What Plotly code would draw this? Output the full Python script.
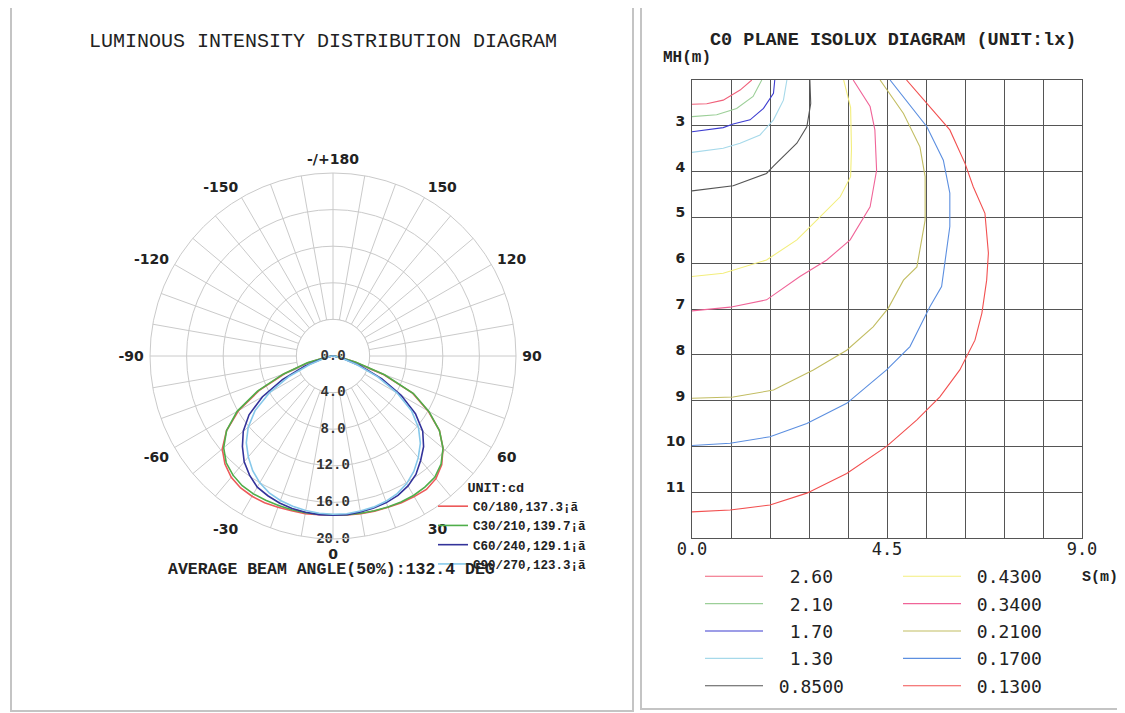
import plotly.graph_objects as go

# ---------------- Polar (luminous intensity) data ----------------
GAMMA = [0, 5, 10, 15, 20, 25, 30, 35, 40, 45, 50, 55, 60, 65, 70, 75, 80, 85, 90]

C0   = [17.4, 17.45, 17.5, 17.55, 17.6, 17.7, 17.75, 17.8, 17.5, 16.8, 15.7, 14.2, 12.0, 9.6, 5.8, 2.4, 0.7, 0.15, 0.0]
C180 = [17.4, 17.4, 17.5, 17.5, 17.6, 17.7, 17.7, 17.6, 17.3, 16.7, 15.8, 14.2, 11.9, 8.9, 5.6, 2.8, 0.8, 0.15, 0.0]
C30  = [17.35, 17.4, 17.45, 17.5, 17.55, 17.6, 17.6, 17.5, 17.3, 16.7, 15.7, 14.2, 12.1, 9.7, 6.0, 2.6, 0.8, 0.2, 0.0]
C210 = [17.35, 17.35, 17.4, 17.4, 17.4, 17.4, 17.4, 17.3, 17.0, 16.5, 15.6, 14.2, 12.1, 9.1, 5.8, 2.9, 0.9, 0.2, 0.0]
C60  = [17.4, 17.4, 17.3, 17.2, 17.05, 16.8, 16.4, 15.8, 14.9, 14.0, 12.8, 11.0, 8.6, 5.9, 3.2, 1.2, 0.3, 0.05, 0.0]
C240 = [17.4, 17.4, 17.35, 17.25, 17.1, 16.85, 16.55, 15.9, 15.1, 14.0, 12.8, 11.2, 8.9, 6.1, 3.3, 1.2, 0.3, 0.05, 0.0]
C90  = [17.3, 17.3, 17.2, 17.1, 16.9, 16.6, 16.1, 15.4, 14.5, 13.5, 12.2, 10.5, 8.1, 5.4, 2.8, 1.0, 0.25, 0.05, 0.0]
C270 = [17.3, 17.25, 17.15, 17.0, 16.8, 16.5, 16.0, 15.3, 14.4, 13.4, 12.1, 10.4, 8.0, 5.3, 2.7, 0.9, 0.2, 0.05, 0.0]

POLAR_NAMES = ["C0/180,137.3¡ã", "C30/210,139.7¡ã", "C60/240,129.1¡ã", "C90/270,123.3¡ã"]
POLAR_RIGHT = [C0, C30, C60, C90]
POLAR_LEFT = [C180, C210, C240, C270]
POLAR_COLORS = ["#ec5a5a", "#4fae4a", "#33339a", "#86c8ea"]

RADIAL_TICKS = [0, 4, 8, 12, 16, 20]
ANGLE_TICKS = list(range(0, 360, 10))
ANGLE_LABELS = {0: "0", 30: "30", 60: "60", 90: "90", 120: "120", 150: "150", 180: "-/+180",
                210: "-150", 240: "-120", 270: "-90", 300: "-60", 330: "-30"}

# ---------------- Isolux data ----------------
ISO_LEVELS = ["2.60", "2.10", "1.70", "1.30", "0.8500", "0.4300", "0.3400", "0.2100", "0.1700", "0.1300"]
ISO_COLORS = ["#f0607a", "#9ccf98", "#3d3dd0", "#a6d9ea", "#555555",
              "#f3ee7c", "#f06498", "#c2bd62", "#5c8fe0", "#f25050"]

S_260 = [0.00, 0.34, 0.72, 1.11, 1.38]
MH_260 = [2.53, 2.52, 2.44, 2.22, 2.00]
S_210 = [0.00, 0.57, 1.03, 1.41, 1.61]
MH_210 = [2.80, 2.76, 2.62, 2.36, 2.00]
S_170 = [0.00, 0.72, 0.95, 1.34, 1.65, 1.88, 1.91]
MH_170 = [3.13, 3.04, 2.96, 2.87, 2.62, 2.29, 2.00]
S_130 = [0.00, 0.72, 1.11, 1.57, 1.88, 2.11, 2.19]
MH_130 = [3.58, 3.49, 3.38, 3.20, 2.87, 2.44, 2.00]
S_085 = [0.00, 0.95, 1.72, 1.88, 2.42, 2.65, 2.74, 2.72]
MH_085 = [4.42, 4.31, 4.04, 3.88, 3.38, 3.02, 2.51, 2.00]
S_043 = [0.00, 0.72, 1.72, 2.42, 2.88, 3.42, 3.66, 3.68, 3.66, 3.50]
MH_043 = [6.29, 6.22, 5.93, 5.49, 5.06, 4.55, 4.11, 3.50, 2.60, 2.00]
S_034 = [0.00, 0.88, 1.72, 2.49, 3.11, 3.65, 4.11, 4.26, 4.22, 4.11, 3.72]
MH_034 = [7.04, 6.96, 6.80, 6.29, 5.93, 5.49, 4.77, 3.97, 3.09, 2.58, 2.00]
S_021 = [0.00, 0.95, 1.88, 2.80, 3.57, 4.18, 4.53, 4.88, 5.19, 5.38, 5.38, 5.26, 4.88, 4.34]
MH_021 = [8.95, 8.92, 8.77, 8.33, 7.90, 7.39, 6.98, 6.37, 6.08, 5.06, 4.11, 3.46, 2.73, 2.00]
S_017 = [0.00, 0.88, 1.80, 2.65, 3.57, 4.49, 5.03, 5.49, 5.76, 5.80, 5.95, 5.95, 5.80, 5.42, 4.57]
MH_017 = [9.98, 9.93, 9.79, 9.50, 9.06, 8.33, 7.82, 6.95, 6.51, 6.22, 5.20, 4.47, 3.75, 3.02, 2.00]
S_013 = [0.00, 0.88, 1.80, 2.65, 3.57, 4.49, 5.19, 5.72, 6.18, 6.53, 6.69, 6.80, 6.84, 6.76, 6.49, 6.30, 5.95, 5.42, 4.95]
MH_013 = [11.43, 11.39, 11.28, 11.02, 10.59, 10.00, 9.42, 8.92, 8.33, 7.68, 7.09, 6.37, 5.78, 4.91, 4.33, 3.82, 3.09, 2.51, 2.00]

ISO_S = [S_260, S_210, S_170, S_130, S_085, S_043, S_034, S_021, S_017, S_013]
ISO_MH = [MH_260, MH_210, MH_170, MH_130, MH_085, MH_043, MH_034, MH_021, MH_017, MH_013]
ISO_LEGEND_TEXT = ["  2.60", "  2.10", "  1.70", "  1.30", " 0.8500",
                   " 0.4300", " 0.3400", " 0.2100", " 0.1700", " 0.1300"]

S_TICKS = [0, 0.9, 1.8, 2.7, 3.6, 4.5, 5.4, 6.3, 7.2, 8.1, 9.0]
S_LABELS = {0: "0.0", 4.5: "4.5", 9.0: "9.0"}
MH_TICKS = [2, 3, 4, 5, 6, 7, 8, 9, 10, 11, 12]

MONO = "Liberation Mono, Courier New, monospace"
SANS = "DejaVu Sans, Verdana, sans-serif"
SMONO = "DejaVu Sans Mono, monospace"
GRID = "#cacaca"

fig = go.Figure()

# white disk hiding spokes inside the first ring
ring_theta = list(range(0, 361, 5))
fig.add_trace(go.Scatterpolar(
    r=[RADIAL_TICKS[1]] * len(ring_theta), theta=ring_theta, mode="lines",
    fill="toself", fillcolor="white", line=dict(color=GRID, width=1),
    showlegend=False, hoverinfo="skip", subplot="polar"))

for name, right, left, color in zip(POLAR_NAMES, POLAR_RIGHT, POLAR_LEFT, POLAR_COLORS):
    theta = [-g for g in reversed(GAMMA)] + GAMMA[1:]
    r = list(reversed(left)) + right[1:]
    fig.add_trace(go.Scatterpolar(
        r=r, theta=theta, mode="lines", name=name,
        line=dict(color=color, width=1.6), subplot="polar", legend="legend"))

# radial value labels drawn on the 0-degree spoke
fig.add_trace(go.Scatterpolar(
    r=RADIAL_TICKS, theta=[0] * len(RADIAL_TICKS), mode="text",
    text=[f"{v:.1f}" for v in RADIAL_TICKS], textposition="middle center",
    textfont=dict(family=MONO, size=14, color="#333333", weight="bold"),
    showlegend=False, hoverinfo="skip", subplot="polar"))

# isolux curves
for i, (lvl, s, mh, color, lab) in enumerate(zip(ISO_LEVELS, ISO_S, ISO_MH, ISO_COLORS, ISO_LEGEND_TEXT)):
    fig.add_trace(go.Scatter(
        x=s, y=mh, mode="lines", name=lab, line=dict(color=color, width=1.1),
        legend="legend2" if i < 5 else "legend3", legendgroup=lvl,
        xaxis="x", yaxis="y"))

W, H = 1125, 713
OFF = 8  # page body margin
px = lambda v: (v - OFF) / W
py = lambda v: 1 - (v - OFF) / H

fig.update_layout(
    width=W, height=H, margin=dict(l=0, r=0, t=0, b=0, pad=0, autoexpand=False),
    paper_bgcolor="white", plot_bgcolor="white",
    polar=dict(
        domain=dict(x=[px(150), px(516)], y=[py(539), py(173)]),
        bgcolor="white",
        radialaxis=dict(range=[0, 20], tickvals=RADIAL_TICKS[1:], showticklabels=False,
                        showline=False, ticks="", gridcolor=GRID, gridwidth=1),
        angularaxis=dict(rotation=-90, direction="counterclockwise",
                         tickmode="array", tickvals=ANGLE_TICKS,
                         ticktext=[ANGLE_LABELS.get(a, "") for a in ANGLE_TICKS],
                         ticks="outside", ticklen=3, tickcolor="rgba(0,0,0,0)",
                         showline=True, linecolor=GRID, linewidth=1,
                         gridcolor=GRID, gridwidth=1,
                         tickfont=dict(family=SANS, size=14, color="#222", weight="bold")),
    ),
    xaxis=dict(domain=[px(692), px(1082)], range=[0, 9], tickmode="array", tickvals=S_TICKS,
               ticktext=[S_LABELS.get(t, "") for t in S_TICKS], showgrid=True,
               gridcolor="#555", gridwidth=1, showline=True, mirror=True, linecolor="#555",
               zeroline=False, ticks="", automargin=False, ticklabelstandoff=-4,
               tickfont=dict(family=SMONO, size=17, color="#222")),
    yaxis=dict(domain=[py(538), py(80)], range=[12, 2], tickmode="array", tickvals=MH_TICKS,
               ticktext=["" if t in (2, 12) else str(t) for t in MH_TICKS], showgrid=True,
               gridcolor="#555", gridwidth=1, showline=True, mirror=True, linecolor="#555",
               zeroline=False, ticks="", ticklabelstandoff=3, ticklabelshift=5, automargin=False,
               tickfont=dict(family=SANS, size=14, color="#222", weight="bold")),
    legend=dict(x=px(433), y=py(474), xanchor="left", yanchor="top", bgcolor="rgba(0,0,0,0)",
                title=dict(text="    UNIT:cd", side="top",
                           font=dict(family=MONO, size=13.5, color="#222", weight="bold")),
                font=dict(family=MONO, size=12.5, color="#222", weight="bold"),
                itemwidth=30, tracegroupgap=0),
    legend2=dict(x=px(700), y=py(558), xanchor="left", yanchor="top", bgcolor="rgba(0,0,0,0)",
                 font=dict(family=SMONO, size=18, color="#222"), itemwidth=58, tracegroupgap=1),
    legend3=dict(x=px(898), y=py(558), xanchor="left", yanchor="top", bgcolor="rgba(0,0,0,0)",
                 font=dict(family=SMONO, size=18, color="#222"), itemwidth=58, tracegroupgap=1),
    showlegend=True,
    shapes=[
        dict(type="rect", xref="paper", yref="paper", x0=px(11), x1=px(633), y0=py(711), y1=py(5),
             line=dict(color="#c4c4c4", width=2)),
        dict(type="rect", xref="paper", yref="paper", x0=px(641), x1=px(1140), y0=py(709), y1=py(5),
             line=dict(color="#c4c4c4", width=2)),
    ],
    annotations=[
        dict(text="LUMINOUS INTENSITY DISTRIBUTION DIAGRAM", x=px(323), y=py(41), xref="paper", yref="paper",
             showarrow=False, xanchor="center", yanchor="middle",
             font=dict(family=MONO, size=20, color="#222")),
        dict(text="C0 PLANE ISOLUX DIAGRAM (UNIT:lx)", x=px(893), y=py(40), xref="paper", yref="paper",
             showarrow=False, xanchor="center", yanchor="middle",
             font=dict(family=MONO, size=18.5, color="#222", weight="bold")),
        dict(text="MH(m)", x=px(687), y=py(58), xref="paper", yref="paper",
             showarrow=False, xanchor="center", yanchor="middle",
             font=dict(family=MONO, size=16, color="#222", weight="bold")),
        dict(text="S(m)", x=px(1100), y=py(577), xref="paper", yref="paper",
             showarrow=False, xanchor="center", yanchor="middle",
             font=dict(family=MONO, size=15, color="#222", weight="bold")),
        dict(text="AVERAGE BEAM ANGLE(50%):132.4 DEG", x=px(331), y=py(569), xref="paper", yref="paper",
             showarrow=False, xanchor="center", yanchor="middle",
             font=dict(family=MONO, size=16.5, color="#222", weight="bold")),
    ],
)

fig.write_html("out.html")
